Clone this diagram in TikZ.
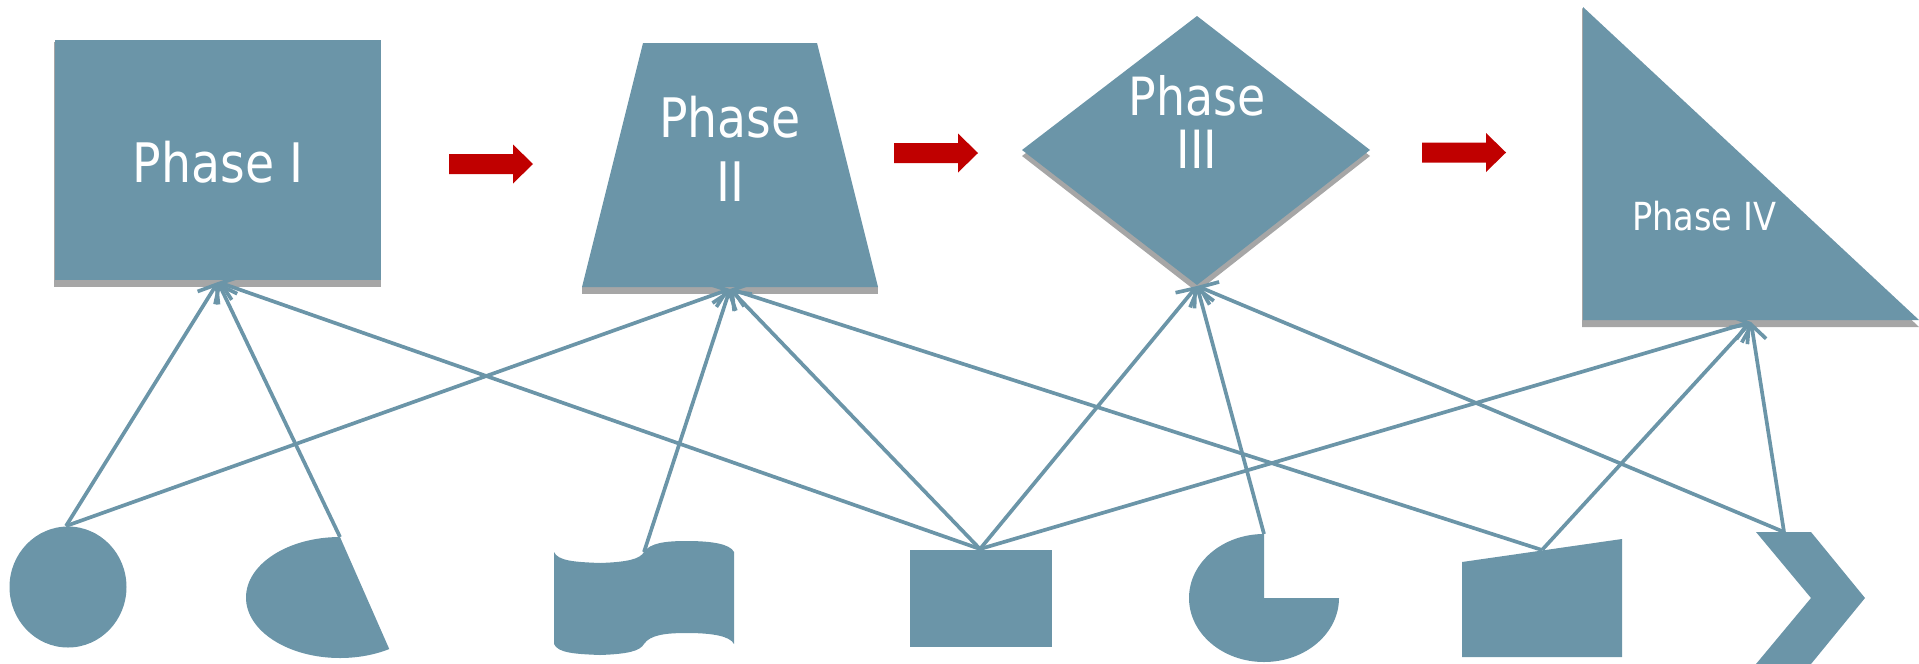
\documentclass[tikz,border=0pt]{standalone}
\usepackage{fontspec}
\setmainfont{DejaVu Sans}[FakeStretch=0.87]
\usepackage{tikz}
\usetikzlibrary{arrows.meta,calc}
\definecolor{phaseblue}{HTML}{6B95A8}
\definecolor{phasered}{HTML}{C00000}
\tikzset{
  phase shape/.style  = {fill=phaseblue, draw=none},
  % schatten unter den Phasen
  phase shadow/.style = {fill=gray!70, draw=none},
  phase text/.style   = {text=white, inner sep=0pt, align=center},
  tool shape/.style   = {fill=phaseblue, draw=none},
  phase arrow/.style  = {fill=phasered, draw=none},
  feed line/.style    = {draw=phaseblue, line width=2.1pt,
                         -{Straight Barb[length=9pt,width=14pt]}},
}

\begin{document}
\begin{tikzpicture}[x=0.02cm,y=-0.02cm]
\useasboundingbox (0,0) rectangle (1919,663);
\def\phasearrow(#1,#2){\fill[phase arrow] (#1,#2) ++(0,-10) -- ++(64,0) -- ++(0,-9.5)
   -- ++(20,19.5) -- ++(-20,19.5) -- ++(0,-9.5) -- ++(-64,0) -- cycle;}

%---------------------------------------------
% Phasen
\fill[phase shadow] (54,42) rectangle (381,287);
\fill[phase shape]  (55,40) rectangle (381,280);
\node[phase text, anchor=base, font=\fontsize{31}{36}\selectfont] (ph1) at (218,182) {Phase I};
\coordinate (ph1_south) at (218,282);

\fill[phase shadow] (582,287) rectangle (878,294);
\fill[phase shape]  (643,43) -- (817,43) -- (878,287) -- (582,287) -- cycle;
\node[phase text, anchor=north, font=\fontsize{31}{36.4}\selectfont] (ph2) at (730,96) {Phase\\II};
\coordinate (ph2_south) at (730,289);

\fill[phase shadow] (1197,22) -- (1370,156) -- (1197,292) -- (1022,156) -- cycle;
\fill[phase shape]  (1197,16) -- (1370,150) -- (1197,285) -- (1022,150) -- cycle;
\node[phase text, anchor=north, font=\fontsize{30}{30.2}\selectfont] (ph3) at (1197,75) {Phase\\III};
\coordinate (ph3_south) at (1197,286);

\fill[phase shadow] (1582,8) -- (1919,327) -- (1582,327) -- cycle;
\fill[phase shape]  (1583,7) -- (1919,320) -- (1583,320) -- cycle;
\node[phase text, anchor=base, font=\fontsize{22}{26}\selectfont] (ph4) at (1704,230) {Phase IV};
\coordinate (ph4_south) at (1751,322);

\phasearrow(449,164)
\phasearrow(894,153)
\phasearrow(1422,152.5)

%---------------------------------------------
% Werkzeuge unten
\fill[tool shape] (68,587) ellipse [x radius=58.5, y radius=60.5];
\coordinate (circ_north) at (66,526);

\fill[tool shape] (340,537) arc[start angle=270, end angle=58.4, x radius=94, y radius=60.5] -- cycle;
\coordinate (pieA_north) at (340,537);

\fill[tool shape] (554,552) .. controls (558,561) and (575,562) .. (600,563)
   .. controls (628,562) and (640,559) .. (644,552)
   .. controls (650,543) and (665,541) .. (687,541)
   .. controls (712,541) and (730,544) .. (734,552) -- (734,644)
   .. controls (730,636) and (712,633) .. (687,633)
   .. controls (665,633) and (650,635) .. (644,644)
   .. controls (640,651) and (628,654) .. (600,655)
   .. controls (575,654) and (558,653) .. (554,644) -- cycle;
\coordinate (wave_north) at (644,552);

\fill[tool shape] (910,550) rectangle (1052,647);
\coordinate (rect_north) at (980,549);

\fill[tool shape] (1264,534) arc[start angle=270, end angle=0, x radius=75, y radius=64] -- (1264,598) -- cycle;
\coordinate (pieB_north) at (1264,534);

\fill[tool shape] (1462,562) -- (1622,539) -- (1622,657) -- (1462,657) -- cycle;
\coordinate (manual_north) at (1542,550);

\fill[tool shape] (1756,532) -- (1811,532) -- (1865,598) -- (1811,664) -- (1756,664) -- (1811,598) -- cycle;
\coordinate (chev_north) at (1784,532);

%---------------------------------------------
\draw[feed line] (circ_north) -- (ph1_south);
\draw[feed line] (circ_north) -- (ph2_south);
\draw[feed line] (pieA_north) -- (ph1_south);
\draw[feed line] (wave_north) -- (ph2_south);
\foreach \p in {ph1,ph2,ph3,ph4}
  \draw[feed line] (rect_north) -- (\p_south);
\draw[feed line] (pieB_north) -- (ph3_south);
\draw[feed line] (manual_north) -- (ph2_south);
\draw[feed line] (manual_north) -- (ph4_south);
\draw[feed line] (chev_north) -- (ph3_south);
\draw[feed line] (chev_north) -- (ph4_south);

\end{tikzpicture}
\end{document}
